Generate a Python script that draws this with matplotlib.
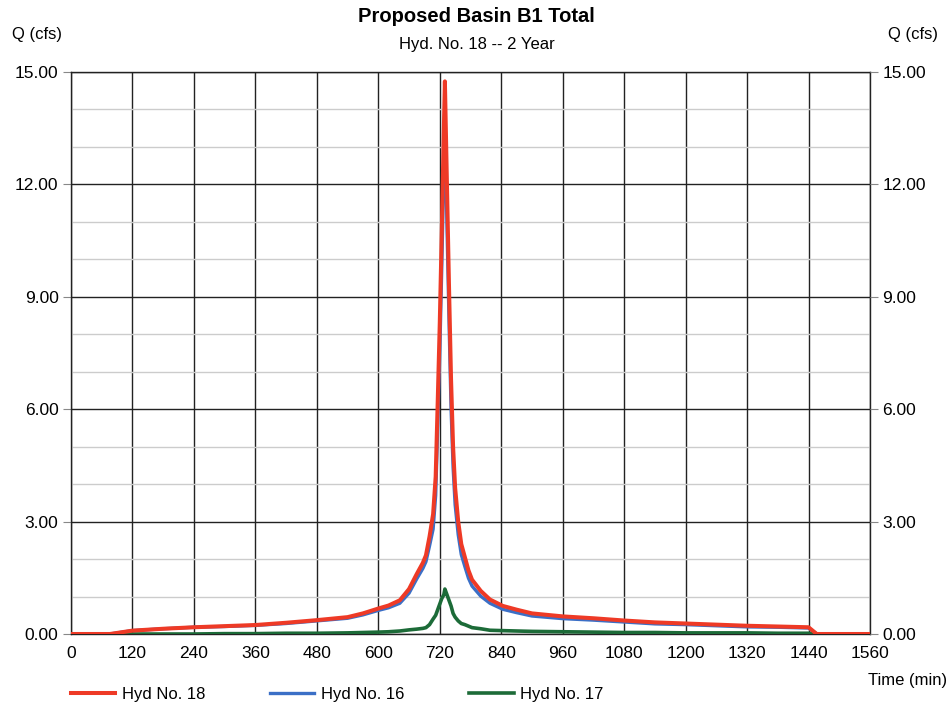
import matplotlib
matplotlib.use('Agg')
import matplotlib.pyplot as plt
from matplotlib.ticker import MultipleLocator

plt.rcParams['font.family'] = ['Liberation Sans', 'DejaVu Sans']

# time (min)
time = [0, 60, 76, 120, 180, 240, 300, 360, 420, 480, 540, 570, 600, 620, 642,
        660, 675, 687, 693, 700, 707, 712, 716, 720, 724, 728, 730, 734, 738,
        742, 746, 750, 756, 762, 769, 776, 783, 800, 818, 843, 870, 900, 960,
        1020, 1080, 1140, 1200, 1260, 1320, 1380, 1440, 1456, 1560]

hyd18 = [0, 0, 0, 0.09, 0.14, 0.18, 0.21, 0.24, 0.30, 0.37, 0.45, 0.55, 0.68,
         0.76, 0.90, 1.20, 1.60, 1.90, 2.10, 2.60, 3.20, 4.20, 6.20, 8.30, 10.80,
         13.50, 14.75, 12.00, 9.30, 6.80, 5.00, 3.90, 3.00, 2.40, 2.05, 1.70,
         1.45, 1.15, 0.92, 0.75, 0.65, 0.55, 0.47, 0.42, 0.36, 0.31, 0.28,
         0.25, 0.22, 0.20, 0.18, 0, 0]

hyd16 = [0, 0, 0, 0.09, 0.14, 0.18, 0.20, 0.23, 0.28, 0.35, 0.42, 0.51, 0.63,
         0.70, 0.82, 1.09, 1.47, 1.75, 1.93, 2.35, 2.80, 3.70, 5.55, 7.50, 9.85,
         12.45, 13.55, 10.95, 8.40, 6.05, 4.45, 3.45, 2.65, 2.12, 1.80, 1.49,
         1.28, 1.01, 0.82, 0.66, 0.57, 0.48, 0.41, 0.37, 0.32, 0.27, 0.25,
         0.22, 0.19, 0.18, 0.16, 0, 0]

hyd17 = [0, 0, 0, 0, 0, 0, 0.01, 0.01, 0.02, 0.02, 0.03, 0.04, 0.05, 0.06,
         0.08, 0.11, 0.13, 0.15, 0.17, 0.25, 0.40, 0.50, 0.65, 0.80, 0.95,
         1.05, 1.20, 1.05, 0.90, 0.75, 0.55, 0.45, 0.35, 0.28, 0.25, 0.21,
         0.17, 0.14, 0.10, 0.09, 0.08, 0.07, 0.06, 0.05, 0.04, 0.04, 0.03,
         0.03, 0.03, 0.02, 0.02, 0, 0]

fig = plt.figure(figsize=(9.53, 7.09), dpi=100)
ax = fig.add_axes([71 / 953, 75 / 709, 799 / 953, 562 / 709])

ax.plot(time, hyd16, color='#3b6fc6', lw=2.4, label='Hyd No. 16', zorder=3)
ax.plot(time, hyd17, color='#1c6b38', lw=2.6, label='Hyd No. 17', zorder=3)
ax.plot(time, hyd18, color='#ee3a26', lw=2.9, label='Hyd No. 18', zorder=4)

ax.set_xlim(0, 1560)
ax.set_ylim(0, 15)
ax.xaxis.set_major_locator(MultipleLocator(120))
ax.yaxis.set_major_locator(MultipleLocator(3))
ax.yaxis.set_minor_locator(MultipleLocator(1))
ax.yaxis.set_major_formatter(lambda v, p: f'{v:.2f}')

ax.grid(which='major', axis='both', color='#222222', lw=1.0, zorder=1)
ax.grid(which='minor', axis='y', color='#cccccc', lw=1.0, zorder=0)
ax.set_axisbelow(True)
for s in ax.spines.values():
    s.set_color('#222222')
    s.set_linewidth(1.0)

ax.tick_params(axis='x', which='both', length=0, labelsize=12.5, pad=9)
ax.tick_params(axis='y', which='major', length=6, labelsize=12.5, pad=3,
               color='#888888')
ax.tick_params(axis='y', which='minor', length=0)

ax2 = ax.twinx()
ax2.set_ylim(0, 15)
ax2.yaxis.set_major_locator(MultipleLocator(3))
ax2.yaxis.set_major_formatter(lambda v, p: f'{v:.2f}')
ax2.tick_params(axis='y', length=6, labelsize=12.5, pad=3, color='#888888')
for s in ax2.spines.values():
    s.set_visible(False)

fig.text(0.5, 1 - 16 / 709, 'Proposed Basin B1 Total', ha='center', va='center',
         fontsize=14.5, fontweight='bold')
fig.text(0.5, 1 - 44 / 709, 'Hyd. No. 18 -- 2 Year', ha='center', va='center',
         fontsize=12)
fig.text(37 / 953, 1 - 35 / 709, 'Q (cfs)', ha='center', va='center', fontsize=12)
fig.text(913 / 953, 1 - 35 / 709, 'Q (cfs)', ha='center', va='center', fontsize=12)
fig.text(908 / 953, 1 - 681 / 709, 'Time (min)', ha='center', va='center',
         fontsize=12)

handles, labels = ax.get_legend_handles_labels()
order = [2, 0, 1]
fig.legend([handles[i] for i in order], [labels[i] for i in order],
           loc='center left', bbox_to_anchor=(56 / 953, 1 - 694 / 709), ncol=3,
           frameon=False, fontsize=12, handlelength=2.65, columnspacing=3.9,
           handletextpad=0.4)

fig.savefig('out.png', dpi=100)
